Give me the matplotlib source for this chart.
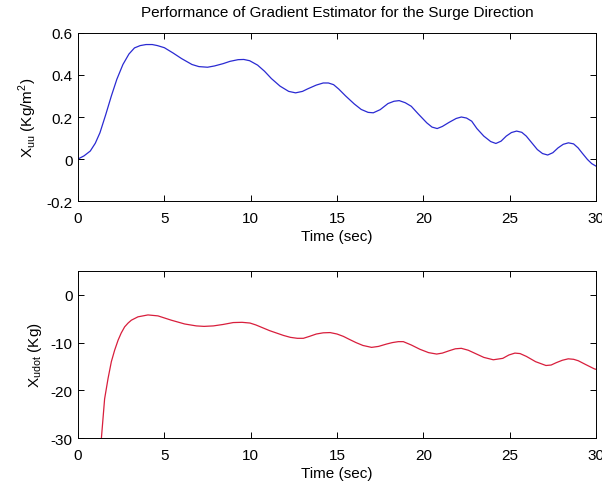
import numpy as np
import matplotlib
matplotlib.use("Agg")
import matplotlib.pyplot as plt
from matplotlib.ticker import FuncFormatter

plt.rcParams['font.family'] = ['Liberation Sans', 'DejaVu Sans']
plt.rcParams['mathtext.fontset'] = 'custom'
plt.rcParams['mathtext.rm'] = 'Liberation Sans'
plt.rcParams['axes.unicode_minus'] = False

# surge gradient estimate X_uu (Kg/m^2)
t_uu = [0.0, 0.35, 0.71, 1.0, 1.27, 1.6, 1.93, 2.25, 2.6, 2.95, 3.27, 3.6, 3.94, 4.3,
        4.6, 5.0, 5.5, 6.0, 6.6, 7.0, 7.5, 7.9, 8.4, 8.8, 9.27, 9.6, 9.94, 10.4,
        10.8, 11.2, 11.7, 12.2, 12.6, 13.0, 13.3, 13.8, 14.2, 14.5, 14.8, 15.1,
        15.5, 16.0, 16.4, 16.8, 17.1, 17.5, 17.95, 18.3, 18.6, 18.95, 19.3, 19.7,
        20.2, 20.5, 20.8, 21.1, 21.5, 21.9, 22.2, 22.5, 22.8, 23.1, 23.5, 23.9,
        24.2, 24.5, 24.8, 25.1, 25.4, 25.7, 25.96, 26.3, 26.6, 26.9, 27.2, 27.5,
        27.8, 28.1, 28.4, 28.7, 28.96, 29.2, 29.5, 29.75, 30.0]
x_uu = [0.0, 0.015, 0.038, 0.075, 0.125, 0.21, 0.30, 0.38, 0.45, 0.50, 0.529, 0.54,
        0.545, 0.545, 0.54, 0.53, 0.505, 0.478, 0.45, 0.44, 0.437, 0.443, 0.454,
        0.465, 0.473, 0.474, 0.468, 0.447, 0.418, 0.383, 0.347, 0.322, 0.315,
        0.322, 0.334, 0.352, 0.362, 0.362, 0.354, 0.333, 0.30, 0.262, 0.236,
        0.222, 0.220, 0.235, 0.264, 0.275, 0.278, 0.268, 0.251, 0.215, 0.172,
        0.152, 0.145, 0.155, 0.175, 0.193, 0.20, 0.195, 0.18, 0.145, 0.109,
        0.083, 0.074, 0.085, 0.109, 0.126, 0.133, 0.127, 0.109, 0.075, 0.045,
        0.026, 0.019, 0.03, 0.053, 0.07, 0.077, 0.072, 0.053, 0.028, -0.002,
        -0.022, -0.034]

# surge added-mass estimate X_udot (Kg)
t_ud = [1.2, 1.35, 1.54, 1.74, 1.93, 2.12, 2.32, 2.5, 2.7, 2.9, 3.09, 3.47, 4.05,
        4.63, 5.4, 6.18, 6.85, 7.3, 7.84, 8.4, 8.99, 9.5, 9.96, 10.3, 10.7, 11.1,
        11.5, 11.9, 12.3, 12.7, 13.05, 13.4, 13.8, 14.2, 14.6, 15.0, 15.37, 15.7,
        16.1, 16.5, 17.0, 17.4, 17.87, 18.2, 18.55, 18.84, 19.3, 19.8, 20.3,
        20.77, 21.1, 21.5, 21.85, 22.2, 22.6, 23.08, 23.5, 24.05, 24.6, 24.95,
        25.3, 25.6, 25.97, 26.5, 27.1, 27.4, 27.7, 28.05, 28.39, 28.7, 28.97,
        29.4, 29.9, 30.0]
x_ud = [-40.0, -30.2, -21.8, -17.5, -14.0, -11.6, -9.5, -8.0, -6.7, -5.9, -5.3,
        -4.6, -4.2, -4.4, -5.3, -6.1, -6.5, -6.6, -6.5, -6.2, -5.8, -5.75, -5.9,
        -6.3, -6.9, -7.5, -8.0, -8.5, -8.9, -9.1, -9.1, -8.7, -8.2, -7.95, -7.9,
        -8.2, -8.7, -9.3, -10.0, -10.6, -11.0, -10.8, -10.3, -10.0, -9.8, -9.8,
        -10.5, -11.4, -12.1, -12.4, -12.2, -11.7, -11.3, -11.2, -11.6, -12.4,
        -13.1, -13.6, -13.3, -12.6, -12.2, -12.3, -12.9, -14.0, -14.8, -14.7,
        -14.2, -13.7, -13.4, -13.5, -13.8, -14.6, -15.5, -15.6]

fig = plt.figure(figsize=(6.02, 4.85), dpi=100)
ax1 = fig.add_axes([0.1296, 0.5835, 0.8605, 0.3464])
ax2 = fig.add_axes([0.1296, 0.0948, 0.8605, 0.3443])

ax1.plot(t_uu, x_uu, color='#2a2ad2', lw=0.9)
ax2.plot(t_ud, x_ud, color='#d81e3c', lw=0.9)

fmt = FuncFormatter(lambda v, p: '%g' % round(v, 6))
for ax in (ax1, ax2):
    ax.set_xlim(0, 30)
    ax.set_xticks(np.arange(0, 31, 5))
    ax.tick_params(direction='in', top=True, right=True, length=4, width=0.7,
                   labelsize=11, pad=4)
    ax.tick_params(axis='x', pad=7)
    ax.yaxis.set_major_formatter(fmt)
    for s in ax.spines.values():
        s.set_linewidth(0.7)
    ax.set_xlabel('Time (sec)', fontsize=11, labelpad=3)

ax1.set_ylim(-0.2, 0.6)
ax1.set_yticks([-0.2, 0, 0.2, 0.4, 0.6])
ax1.set_ylabel(r'X$_\mathregular{uu}$ (Kg/m$^\mathregular{2}$)', fontsize=11, labelpad=5)
ax1.set_title('Performance of Gradient Estimator for the Surge Direction', fontsize=11, pad=12)

ax2.set_ylim(-30, 5)
ax2.set_yticks([-30, -20, -10, 0])
ax2.set_ylabel(r'X$_\mathregular{udot}$ (Kg)', fontsize=11, labelpad=5)

fig.savefig('out.png', dpi=100)
